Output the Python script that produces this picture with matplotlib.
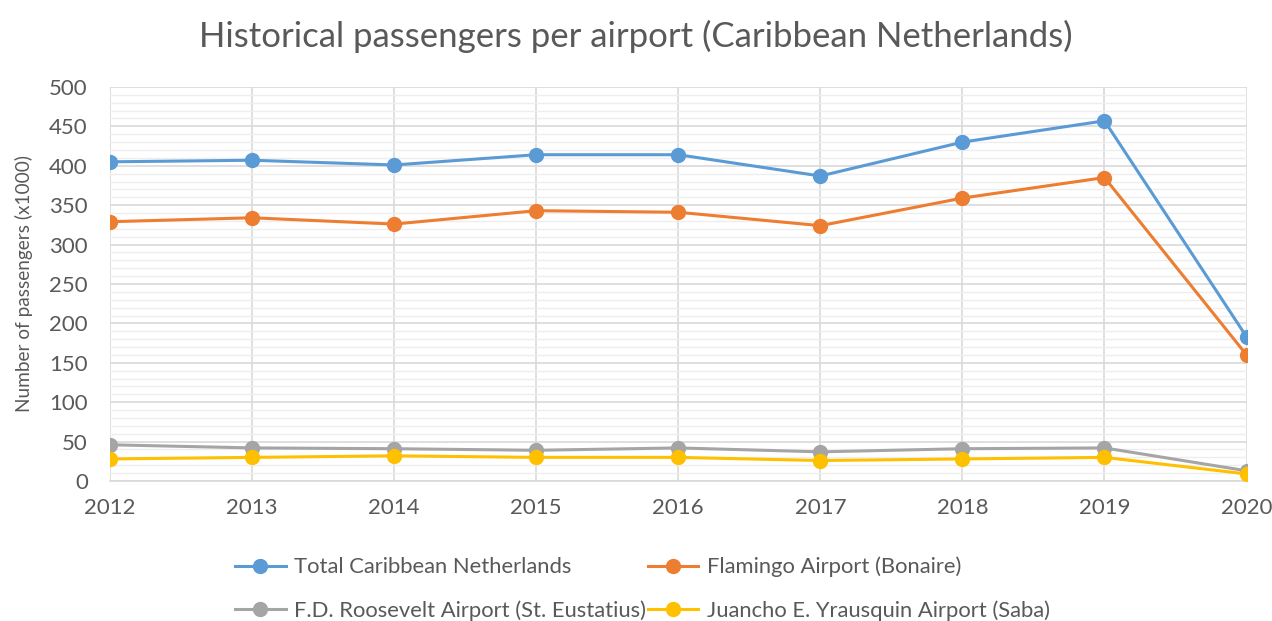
import numpy as np
import matplotlib.pyplot as plt
from matplotlib.ticker import MultipleLocator

plt.rcParams['font.family'] = ['Lato', 'DejaVu Sans']

# Data
years = [2012, 2013, 2014, 2015, 2016, 2017, 2018, 2019, 2020]
total = [405, 407, 401, 414, 414, 387, 430, 457, 183]
flamingo = [329, 334, 326, 343, 341, 324, 359, 385, 160]
roosevelt = [46, 42, 41, 39, 42, 37, 41, 42, 13]
yrausquin = [28, 30, 32, 30, 30, 26, 28, 30, 9]

labels = ['Total Caribbean Netherlands', 'Flamingo Airport (Bonaire)',
          'F.D. Roosevelt Airport (St. Eustatius)', 'Juancho E. Yrausquin Airport (Saba)']
colors = ['#5B9BD5', '#ED7D31', '#A5A5A5', '#FFC000']

fig = plt.figure(figsize=(12.72, 6.21), dpi=100)
ax = fig.add_axes([0.0865, 0.2254, 0.8935, 0.6346])

handles = []
for series, lab, col in zip([total, flamingo, roosevelt, yrausquin], labels, colors):
    h, = ax.plot(years, series, color=col, lw=2.2, marker='o', markersize=10, label=lab, zorder=3)
    handles.append(h)

ax.set_xlim(2012, 2020)
ax.set_ylim(0, 500)
ax.yaxis.set_major_locator(MultipleLocator(50))
ax.yaxis.set_minor_locator(MultipleLocator(10))
ax.set_xticks(years)
ax.grid(which='major', axis='both', color='#D9D9D9', lw=1.2, zorder=0)
ax.grid(which='minor', axis='y', color='#EEEEEE', lw=1.0, zorder=0)
ax.set_axisbelow(True)
for s in ['top', 'right', 'left']:
    ax.spines[s].set_visible(False)
ax.spines['bottom'].set_color('#D9D9D9')
ax.spines['bottom'].set_linewidth(1.2)
ax.tick_params(which='both', length=0, labelsize=16, colors='#595959')
ax.tick_params(axis='x', pad=12)
ax.tick_params(axis='y', pad=16)

ax.set_ylabel('Number of passengers (x1000)', fontsize=13.7, color='#595959', labelpad=12)
fig.suptitle('Historical passengers per airport (Caribbean Netherlands)', fontsize=25,
             color='#595959', y=0.968)

# column-major order so rows read: total, flamingo / roosevelt, saba
order = [0, 2, 1, 3]
fig.legend([handles[i] for i in order], [labels[i] for i in order],
           loc='center', bbox_to_anchor=(0.505, 0.052), ncol=2, frameon=False,
           fontsize=15.8, labelcolor='#595959', handlelength=2.3, handletextpad=0.37,
           columnspacing=0.1, labelspacing=1.05)

fig.savefig('out.png', dpi=100)
